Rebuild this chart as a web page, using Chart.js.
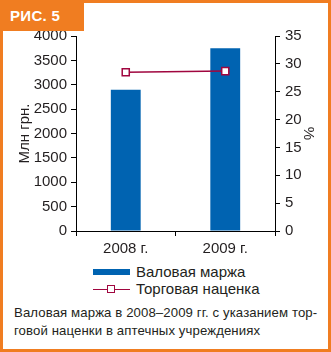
<!DOCTYPE html>
<html>
<head>
<meta charset="utf-8">
<script src="https://cdn.jsdelivr.net/npm/chart.js@4/dist/chart.umd.min.js"></script>
<style>
  body { margin: 0; background: #fff; }
  #frame {
    position: relative; width: 331px; height: 352px; overflow: hidden;
    box-shadow: inset 0 0 0 3px #f07d21; background: #fff;
    font-family: "Liberation Sans Narrow", "Liberation Sans", Arial, sans-serif; color: #231f20;
  }
  #tag {
    position: absolute; left: 0; top: 0; width: 84px; height: 31px; background: #f07d21;
    color: #fff; font: bold 15px "Liberation Sans", Arial, sans-serif; line-height: 31px;
    padding-left: 10px; box-sizing: border-box; letter-spacing: 0.3px;
  }
  #chart { position: absolute; left: 0; top: 0; }
  .leg { position: absolute; left: 93px; font-size: 15px; line-height: 16px; white-space: nowrap; }
  .leg .sw { display: inline-block; position: relative; width: 37px; height: 16px; vertical-align: top; margin-right: 6px; }
  #caption {
    position: absolute; left: 14px; top: 304px; font: 13.2px "Liberation Sans", Arial, sans-serif;
    line-height: 18px; white-space: nowrap; letter-spacing: 0.1px;
  }
</style>
</head>
<body>
<div id="frame">
  <canvas id="chart" width="331" height="260"></canvas>
  <div id="tag">РИС. 5</div>
  <div class="leg" id="leg1" style="top:264px"></div>
  <div class="leg" id="leg2" style="top:281px"></div>
  <div id="caption">Валовая маржа в 2008–2009 гг. с указанием тор-<br>говой наценки в аптечных учреждениях</div>
</div>
<script>
// data
var categories = ["2008 г.", "2009 г."];
var grossMargin = [2900, 3750];     // Млн грн.
var tradeMarkup = [28.5, 28.7];     // %
var leftMax = 4000, leftStep = 500;
var rightMax = 35, rightStep = 5;

var barLabel = "Валовая маржа";
var lineLabel = "Торговая наценка";
var leftTitle = "Млн грн.";
var rightTitle = "%";

var blue = "#0063b1";
var crimson = "#a0063f";
var ink = "#231f20";

//legend in html
document.getElementById("leg1").innerHTML =
  '<span class="sw"><span style="position:absolute;left:0;top:5px;width:37px;height:6px;background:' + blue + '"></span></span>' + barLabel;
document.getElementById("leg2").innerHTML =
  '<span class="sw"><span style="position:absolute;left:0;top:8px;width:37px;height:1px;background:' + crimson + '"></span>' +
  '<span style="position:absolute;left:14px;top:4px;width:6px;height:6px;border:1px solid ' + crimson + ';background:#fff"></span></span>' + lineLabel;

var tickFont = { family: "Liberation Sans", size: 15 };
function plain(v) { return String(v); }

var ctx = document.getElementById("chart").getContext("2d");
var chart = new Chart(ctx, {
  type: "bar",
  data: {
    labels: categories,
    datasets: [
      {
        type: "line",
        label: lineLabel,
        data: tradeMarkup,
        yAxisID: "y1",
        borderColor: crimson,
        borderWidth: 1.5,
        pointStyle: "rect",
        pointRadius: 5,
        pointBorderWidth: 1.5,
        pointBackgroundColor: "#fff",
        pointBorderColor: crimson,
        order: 0,
      },
      {
        label: barLabel,
        data: grossMargin,
        yAxisID: "y",
        backgroundColor: blue,
        categoryPercentage: 1,
        barPercentage: 0.3,
        order: 1,
      },
    ],
  },
  options: {
    responsive: false,
    animation: false,
    layout: { padding: { left: 12, right: 10, top: 36, bottom: 0 } },
    plugins: { legend: { display: false }, tooltip: { enabled: false } },
    scales: {
      x: {
        grid: { drawOnChartArea: false, offset: true, tickLength: 5, color: "#000" },
        border: { color: "#000" },
        ticks: { font: tickFont, color: ink, padding: 4 },
        afterFit: function (s) { s.height = 29; },
      },
      y: {
        position: "left",
        min: 0, max: leftMax,
        grid: { drawOnChartArea: false, tickLength: 5, color: "#000" },
        border: { color: "#000" },
        ticks: { stepSize: leftStep, font: tickFont, color: ink, padding: 4, callback: plain },
        title: { display: true, text: leftTitle, font: tickFont, color: ink },
        afterFit: function (s) { s.width = 64; },
      },
      y1: {
        position: "right",
        min: 0, max: rightMax,
        grid: { drawOnChartArea: false, tickLength: 5, color: "#000" },
        border: { color: "#000" },
        ticks: { stepSize: rightStep, font: tickFont, color: ink, padding: 5, callback: plain },
        title: { display: true, text: rightTitle, font: tickFont, color: ink },
        afterFit: function (s) { s.width = 46; },
      },
    },
  },
});
</script>
</body>
</html>
